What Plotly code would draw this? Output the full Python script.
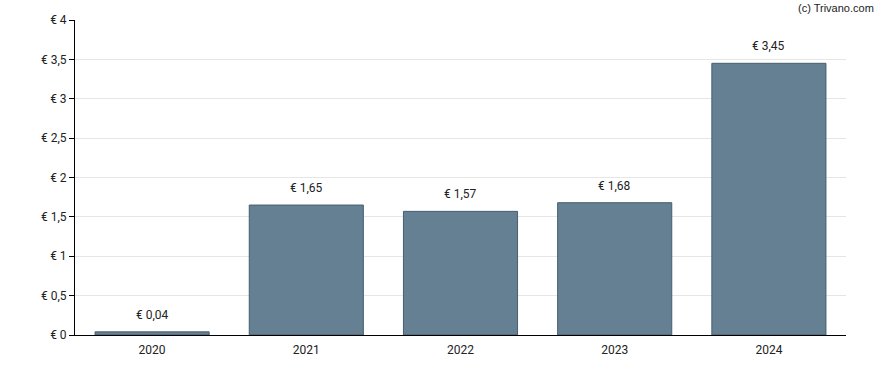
import plotly.graph_objects as go

years = ["2020", "2021", "2022", "2023", "2024"]
values = [0.04, 1.65, 1.57, 1.68, 3.45]
labels = ["€ 0,04", "€ 1,65", "€ 1,57", "€ 1,68", "€ 3,45"]

fig = go.Figure()
fig.add_trace(go.Bar(
    x=years, y=values,
    marker=dict(color="rgb(101,128,146)", line=dict(color="rgb(70,94,112)", width=1)),
    width=0.74,
    hoverinfo="skip",
))
for i, (v, t) in enumerate(zip(values, labels)):
    fig.add_annotation(x=i, y=v, text=t, showarrow=False, yanchor="bottom",
                       yshift=8, font=dict(size=12, color="#222", family="Roboto"))

fig.add_annotation(xref="paper", yref="paper", x=1.0, y=1.0, xanchor="right", yanchor="bottom",
                   xshift=30, yshift=4,
                   text="(c) Trivano.com", showarrow=False,
                   font=dict(size=11, color="#222", family="Liberation Sans"))

fig.update_layout(
    width=888, height=370,
    margin=dict(l=75, r=42, t=20, b=35),
    plot_bgcolor="white", paper_bgcolor="white",
    separators=",.",
    showlegend=False,
    font=dict(family="Roboto", size=12, color="#222"),
    xaxis=dict(type="category", range=[-0.5, 4.5], showline=True, linecolor="black",
               linewidth=1, ticks="", showgrid=False, tickfont=dict(size=12),
               ticklabelstandoff=4),
    yaxis=dict(range=[0, 4], dtick=0.5, tickprefix="€ ", showline=True, linecolor="black",
               linewidth=1, ticks="outside", ticklen=5, tickcolor="black",
               showgrid=True, gridcolor="#e6e6e6", gridwidth=1, zeroline=False,
               tickfont=dict(size=12)),
)
fig.write_html("out.html", config={"displayModeBar": False},
               post_script="document.body.style.margin='0';")
